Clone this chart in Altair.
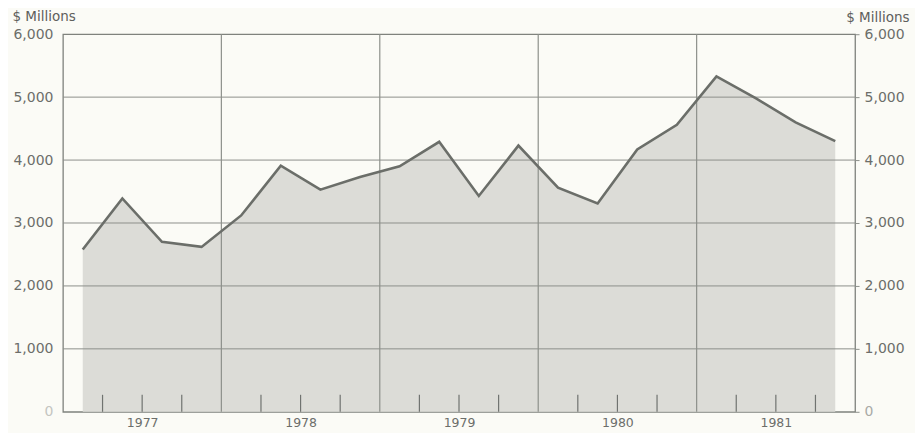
import altair as alt
import pandas as pd

years = [1977, 1978, 1979, 1980, 1981]
quarters = [1, 2, 3, 4]
values = [2580, 3390, 2700, 2620,
          3120, 3910, 3530, 3730,
          3900, 4290, 3430, 4230,
          3560, 3310, 4170, 4560,
          5330, 4980, 4600, 4300]
y_ticks = [0, 1000, 2000, 3000, 4000, 5000, 6000]
inner_grid = [1000, 2000, 3000, 4000, 5000]
year_lines = [1978, 1979, 1980, 1981]

rows = []
i = 0
for yr in years:
    for q in quarters:
        rows.append({"t": yr + (q - 0.5) / 4, "value": values[i]})
        i += 1
df = pd.DataFrame(rows)
qticks = pd.DataFrame({"t": [yr + k / 4 for yr in years for k in (1, 2, 3)]})
ylines = pd.DataFrame({"t": year_lines})
hgrid = pd.DataFrame({"v": inner_grid})

W, H = 793, 378
FONT = "DejaVu Sans"
TXT = "#6c6e6a"
GRID = "#8d908b"

xscale = alt.Scale(domain=[1977, 1982], nice=False, zero=False)
yscale = alt.Scale(domain=[0, 6000], nice=False)

xaxis = alt.Axis(values=[yr + 0.5 for yr in years],
                 labelExpr="'' + floor(datum.value)",
                 grid=False, ticks=False, domain=False,
                 labelFontSize=12.5, labelColor=TXT, labelFont=FONT,
                 labelPadding=5)


def xenc():
    return alt.X("t:Q", scale=xscale, title=None, axis=xaxis)


area = alt.Chart(df).mark_area(color="#dcdcd7", opacity=1).encode(
    x=xenc(),
    y=alt.Y("value:Q", scale=yscale,
            axis=alt.Axis(values=y_ticks, format=",.0f", grid=False, ticks=False,
                          domain=False, orient="left",
                          labelFontSize=14, labelFont=FONT,
                          labelColor=alt.condition("datum.value == 0", alt.value("#c4c5c1"), alt.value(TXT)),
                          labelPadding=10,
                          title="$ Millions", titleAngle=0, titleAlign="left",
                          titleBaseline="middle", titleX=-51, titleY=-18,
                          titleFont=FONT, titleFontSize=13.5, titleFontWeight="normal",
                          titleColor="#5e605c")),
)

hgrid_layer = alt.Chart(hgrid).mark_rule(color=GRID, strokeWidth=1).encode(
    y=alt.Y("v:Q", scale=yscale, axis=None),
    x=alt.value(0), x2=alt.value(W),
)

vgrid_layer = alt.Chart(ylines).mark_rule(color=GRID, strokeWidth=1.2).encode(
    x=xenc(),
    y=alt.value(0), y2=alt.value(H),
)

qtick_layer = alt.Chart(qticks).mark_rule(color="#707370", strokeWidth=1.2).encode(
    x=xenc(),
    y=alt.value(H), y2=alt.value(H - 17),
)

line = alt.Chart(df).mark_line(color="#6b6e69", strokeWidth=2.6).encode(
    x=xenc(),
    y=alt.Y("value:Q", scale=yscale,
            axis=alt.Axis(values=y_ticks, format=",.0f", grid=False, ticks=True,
                          tickSize=4, tickColor=GRID,
                          domain=False, orient="right",
                          labelFontSize=14, labelFont=FONT,
                          labelColor=alt.condition("datum.value == 0", alt.value("#a9aaa6"), alt.value(TXT)),
                          labelPadding=5,
                          title="$ Millions", titleAngle=0, titleAlign="right",
                          titleBaseline="middle", titleX=54, titleY=-17,
                          titleFont=FONT, titleFontSize=13.5, titleFontWeight="normal",
                          titleColor="#5e605c")),
)

chart = alt.layer(area, hgrid_layer, vgrid_layer, qtick_layer, line).resolve_scale(
    y="shared", x="shared"
).resolve_axis(y="independent").properties(
    width=W, height=H,
    autosize=alt.AutoSizeParams(type="none"),
    padding={"left": 55, "top": 26, "right": 60, "bottom": 21},
    background="#fbfbf6",
).configure_view(stroke="#7f827d", strokeWidth=1.3)

chart.save("out.html", embed_options={"renderer": "svg", "actions": False})
